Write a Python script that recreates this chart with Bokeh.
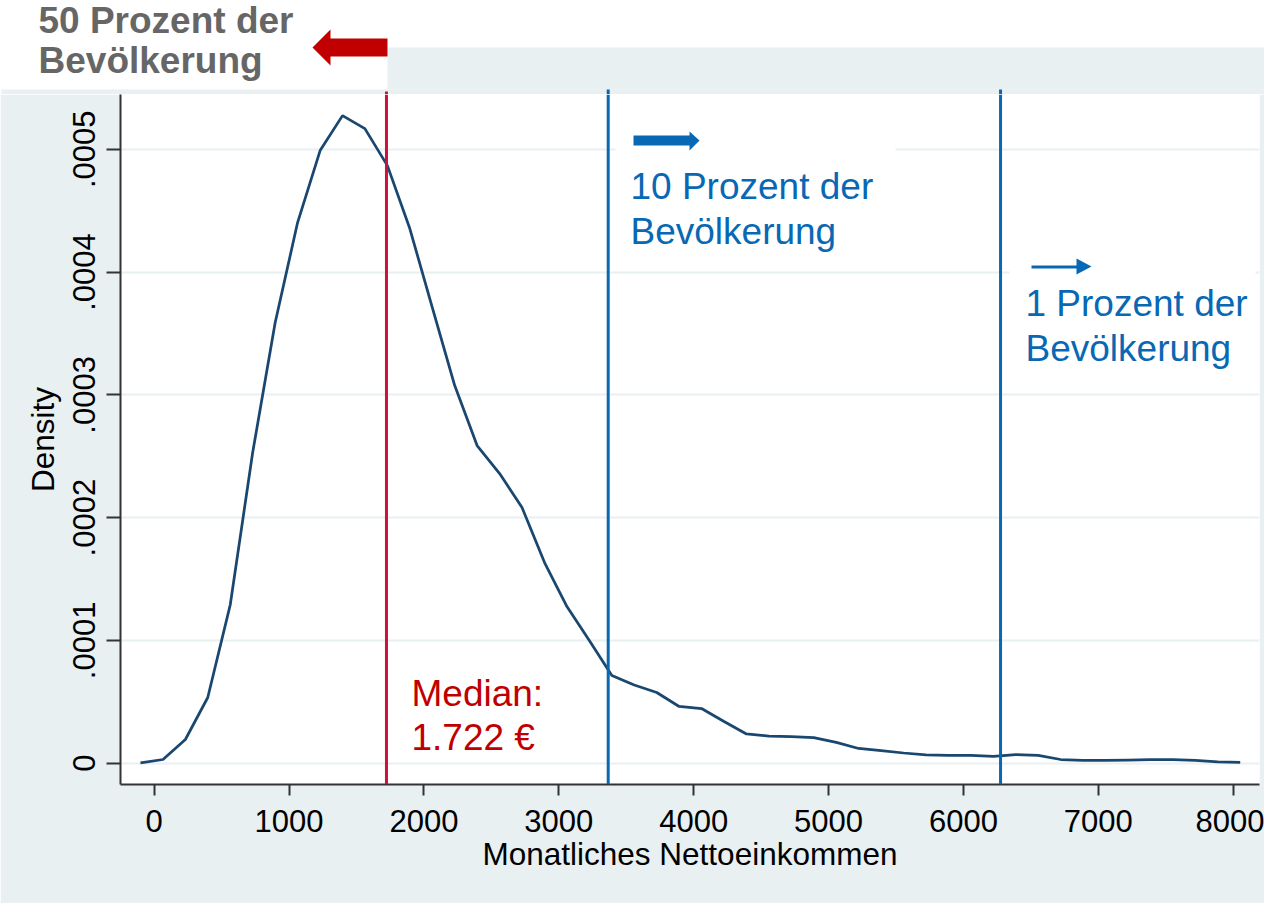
from bokeh.plotting import figure
from bokeh.layouts import column
from bokeh.models import Span, BoxAnnotation, FixedTicker, Range1d
from bokeh.core.properties import value
from bokeh.embed import file_html
from bokeh.resources import INLINE

# ---------------- data ----------------
income = [-102, 65, 231, 397, 564, 730, 897, 1063, 1230, 1396,
          1562, 1729, 1895, 2062, 2228, 2394, 2561, 2727, 2894, 3060,
          3226, 3393, 3559, 3726, 3892, 4058, 4225, 4391, 4558, 4724,
          4890, 5057, 5223, 5390, 5556, 5722, 5889, 6055, 6222, 6388,
          6554, 6721, 6887, 7054, 7220, 7386, 7553, 7719, 7886, 8052]
density = [0.0000002, 0.000003, 0.0000193, 0.0000535, 0.0001292, 0.000253, 0.0003589, 0.0004403, 0.0004989, 0.0005274,
           0.0005168, 0.0004867, 0.0004354, 0.0003711, 0.0003076, 0.0002587, 0.0002359, 0.0002082, 0.0001634, 0.0001276,
           0.0000999, 0.0000714, 0.0000637, 0.0000576, 0.0000462, 0.0000445, 0.000034, 0.0000238, 0.0000221, 0.0000217,
           0.0000209, 0.0000169, 0.000012, 0.0000103, 0.0000083, 0.0000067, 0.0000063, 0.0000063, 0.0000055, 0.000007,
           0.0000063, 0.000003, 0.0000022, 0.0000022, 0.0000026, 0.000003, 0.000003, 0.0000022, 0.000001, 0.0000006]

median_income = 1722
p90_income = 3366
p99_income = 6275

x_ticks = [0, 1000, 2000, 3000, 4000, 5000, 6000, 7000, 8000]
x_tick_labels = ["0", "1000", "2000", "3000", "4000", "5000", "6000", "7000", "8000"]
y_ticks = [0, 0.0001, 0.0002, 0.0003, 0.0004, 0.0005]
y_tick_labels = ["0", ".0001", ".0002", ".0003", ".0004", ".0005"]

x_title = "Monatliches Nettoeinkommen"
y_title = "Density"
median_text = ["Median:", "1.722 €"]
p90_text = ["10 Prozent der", "Bevölkerung"]
p99_text = ["1 Prozent der", "Bevölkerung"]
p50_text = ["50 Prozent der", "Bevölkerung"]

# ---------------- styling / layout ----------------
FONT = "Liberation Sans"
PANEL = "#E8F0F2"
NAVY = "#1a476f"
RED_LINE = "#D0103A"
RED_TXT = "#C00000"
BLUE = "#0868B4"
GRAY_TXT = "#666666"
TXT_SHIFT = 14      # renderer places the alphabetic baseline ~14px lower

X0, X1 = -250, 8195
Y0, Y1 = -0.00001735, 0.0005446

W = 1264
TOP_H = 94          # page y 8..102 (header strip)
MAIN_H = 809        # page y 102..911
ML, MR, MB = 120, 5, 119
# plot frame in page pixels
FL, FR, FT, FB = ML + 8, W - MR + 8, 102, 102 + MAIN_H - MB


def dx(px):
    return X0 + (px - FL) / (FR - FL) * (X1 - X0)


def dy(py):
    return Y0 + (FB - py) / (FB - FT) * (Y1 - Y0)


def to_px(v):
    return FL + (v - X0) / (X1 - X0) * (FR - FL)


# ---------- header strip (page pixel coordinates) ----------
t = figure(width=W, height=TOP_H, output_backend="svg", toolbar_location=None,
           x_range=Range1d(8, 8 + W), y_range=Range1d(8 + TOP_H, 8),
           min_border_left=0, min_border_right=0, min_border_top=0, min_border_bottom=0,
           x_axis_type=None, y_axis_type=None,
           background_fill_color="white", border_fill_color="white", outline_line_color=None)
t.xgrid.visible = False
t.ygrid.visible = False
t.quad(left=[395, 9], right=[8 + W, 8 + W], top=[55, 97], bottom=[97, 102],
       fill_color=PANEL, line_color=None)
line_px = [to_px(median_income), to_px(p90_income), to_px(p99_income)]
t.segment(x0=line_px, x1=line_px, y0=[99, 97, 97], y1=[102, 102, 102],
          line_color=[RED_LINE, BLUE, BLUE], line_width=3)
t.text(x=[46, 46], y=[42 - TXT_SHIFT, 82 - TXT_SHIFT], text=p50_text, text_font=value(FONT),
       text_font_size=value("37px"), text_font_style="bold", text_color=GRAY_TXT,
       text_align="left", text_baseline="alphabetic")
t.patch(x=[320, 338, 338, 395, 395, 338, 338], y=[55, 37, 46, 46, 64, 64, 73],
        fill_color=RED_TXT, line_color=None)

# ---------- main plot ----------
p = figure(width=W, height=MAIN_H, output_backend="svg", toolbar_location=None,
           x_range=Range1d(X0, X1), y_range=Range1d(Y0, Y1),
           min_border_left=ML, min_border_right=MR, min_border_top=0, min_border_bottom=MB,
           background_fill_color="white", border_fill_color=PANEL, outline_line_color=None)

for fig in (t, p):
    if "frame_align" in fig.properties():
        fig.frame_align = False

p.xaxis.ticker = FixedTicker(ticks=x_ticks)
p.xaxis.major_label_overrides = dict(zip(x_ticks, x_tick_labels))
p.yaxis.ticker = FixedTicker(ticks=y_ticks)
p.yaxis.major_label_overrides = dict(zip(y_ticks, y_tick_labels))
p.yaxis.major_label_orientation = "vertical"
p.xaxis.axis_label = x_title
p.yaxis.axis_label = y_title
for ax in (p.xaxis, p.yaxis):
    ax.axis_line_color = "#333333"
    ax.axis_line_width = 2
    ax.major_tick_line_color = "#333333"
    ax.major_tick_line_width = 2
    ax.major_tick_in = 0
    ax.minor_tick_line_color = None
    ax.major_label_text_font = FONT
    ax.major_label_text_font_size = "31px"
    ax.major_label_text_color = "black"
    ax.axis_label_text_font = FONT
    ax.axis_label_text_font_size = "31.5px"
    ax.axis_label_text_font_style = "normal"
    ax.axis_label_text_color = "black"
p.xaxis.major_tick_out = 11
p.yaxis.major_tick_out = 14
p.xaxis.major_label_standoff = 14
p.xaxis.axis_label_standoff = 1
p.yaxis.major_label_standoff = 11
p.yaxis.axis_label_standoff = 10

p.xgrid.visible = False
p.ygrid.grid_line_color = PANEL
p.ygrid.grid_line_width = 2

# white boxes behind the annotation texts (under the glyphs)
p.add_layout(BoxAnnotation(left=dx(623), right=dx(903), top=dy(128), bottom=dy(272),
                           fill_color="white", fill_alpha=1, line_color=None, level="underlay"))
p.add_layout(BoxAnnotation(left=dx(1017), right=dx(1263), top=dy(262), bottom=dy(395),
                           fill_color="white", fill_alpha=1, line_color=None, level="underlay"))

p.line(income, density, line_color=NAVY, line_width=2.75)

# vertical reference lines
p.add_layout(Span(location=median_income, dimension="height", line_color=RED_LINE, line_width=3))
p.add_layout(Span(location=p90_income, dimension="height", line_color=BLUE, line_width=3))
p.add_layout(Span(location=p99_income, dimension="height", line_color=BLUE, line_width=3))

# annotation texts (page pixel positions of the text baselines)
p.text(x=[dx(419), dx(419)], y=[dy(715 - TXT_SHIFT), dy(759 - TXT_SHIFT)], text=median_text,
       text_font=value(FONT), text_font_size=value("37px"), text_color=RED_TXT,
       text_align="left", text_baseline="alphabetic")
p.text(x=[dx(638), dx(638), dx(1033), dx(1033)],
       y=[dy(208 - TXT_SHIFT), dy(253 - TXT_SHIFT), dy(325 - TXT_SHIFT), dy(370 - TXT_SHIFT)],
       text=p90_text + p99_text, text_font=value(FONT), text_font_size=value("37px"),
       text_color=BLUE, text_align="left", text_baseline="alphabetic")

# arrows (page pixel outlines)
arrow90 = [(707, 148), (697, 139), (697, 143), (641, 143), (641, 153), (697, 153), (697, 158)]
arrow99 = [(1099, 274), (1084, 266), (1084, 273), (1039, 273), (1039, 276), (1084, 276), (1084, 282)]
for pts in (arrow90, arrow99):
    p.patch(x=[dx(a) for a, b in pts], y=[dy(b) for a, b in pts], fill_color=BLUE, line_color=None)

layout = column(t, p, spacing=0)
open("out.html", "w").write(file_html(layout, INLINE))
